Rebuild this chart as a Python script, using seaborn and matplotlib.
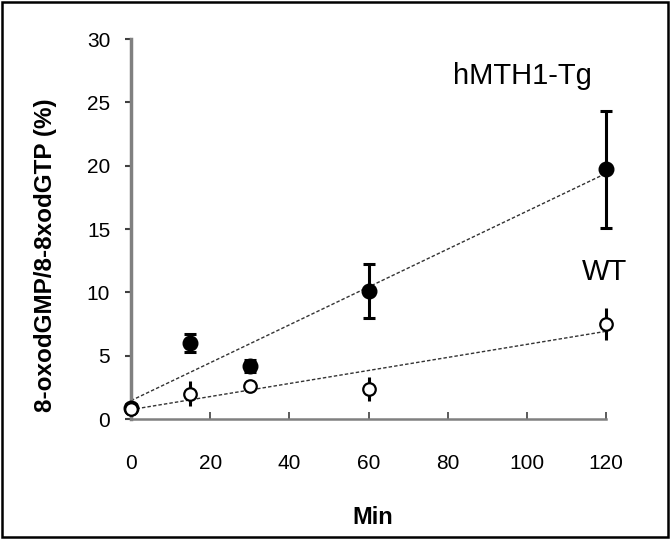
import matplotlib
matplotlib.use("Agg")
import matplotlib.pyplot as plt
import seaborn as sns
import numpy as np
import pandas as pd
from matplotlib.patches import Rectangle

# Data
minutes = [0, 15, 30, 60, 120]
tg_values = [0.9, 6.0, 4.2, 10.1, 19.7]
tg_errors = [0.3, 0.7, 0.45, 2.1, 4.6]
wt_values = [0.8, 2.0, 2.6, 2.4, 7.5]
wt_errors = [0.3, 1.0, 0.4, 0.95, 1.25]
x_ticks = [0, 20, 40, 60, 80, 100, 120]
y_ticks = [0, 5, 10, 15, 20, 25, 30]

df_tg = pd.DataFrame({"Min": minutes, "val": tg_values})
df_wt = pd.DataFrame({"Min": minutes, "val": wt_values})

sns.set_theme(style="white")
plt.rcParams['font.family'] = ['Liberation Sans', 'DejaVu Sans']
plt.rcParams['text.color'] = 'black'
plt.rcParams['axes.labelcolor'] = 'black'
plt.rcParams['xtick.color'] = 'black'
plt.rcParams['ytick.color'] = 'black'

fig = plt.figure(figsize=(6.70, 5.39), dpi=100)
ax = fig.add_axes([0.1955, 0.2226, 0.709, 0.705])

# trend lines (linear regression)
line_kws = dict(color="#333333", lw=1.0, ls=(0, (2.5, 1.5)))
sns.regplot(data=df_tg, x="Min", y="val", scatter=False, ci=None, ax=ax,
            line_kws=line_kws, truncate=True)
sns.regplot(data=df_wt, x="Min", y="val", scatter=False, ci=None, ax=ax,
            line_kws=line_kws, truncate=True)

# error bars + markers
ax.errorbar(minutes, tg_values, yerr=tg_errors, fmt='o', color='black',
            ms=10.5, mfc='black', mec='black', elinewidth=2.2, capsize=4,
            capthick=2.2, clip_on=False, zorder=5)
ax.errorbar(minutes, wt_values, yerr=wt_errors, fmt='o', color='black',
            ms=9, mfc='white', mec='black', mew=1.6, elinewidth=2.2,
            capsize=0, clip_on=False, zorder=6)

ax.set_xlim(0, 120)
ax.set_ylim(0, 30)
ax.set_xticks(x_ticks)
ax.set_yticks(y_ticks)

for s in ['top', 'right']:
    ax.spines[s].set_visible(False)
ax.spines['left'].set_color('#808080')
ax.spines['left'].set_linewidth(2.5)
ax.spines['bottom'].set_color('#808080')
ax.spines['bottom'].set_linewidth(1.8)

ax.tick_params(axis='y', direction='out', length=4, width=1.5, color='#404040',
               labelcolor='black', labelsize=15, pad=11, left=True)
ax.tick_params(axis='x', direction='in', length=5, width=1.2, color='#404040',
               labelcolor='black', labelsize=15, pad=25, bottom=True)

ax.set_ylabel("8-oxodGMP/8-8xodGTP (%)", fontsize=17.5, fontweight='bold',
              va='center', color='black')
ax.yaxis.set_label_coords(-0.181, 0.43)
ax.set_xlabel("Min", fontsize=17, fontweight='bold', va='center', color='black')
ax.xaxis.set_label_coords(0.509, -0.258)

ax.text(81.3, 27.1, "hMTH1-Tg", fontsize=21, ha='left', va='center', color='black')
ax.text(113.9, 11.6, "WT", fontsize=21, ha='left', va='center', color='black')

fig.patches.append(Rectangle((0.003, 0.003), 0.994, 0.994, transform=fig.transFigure,
                             fill=False, edgecolor='black', linewidth=1.8))

fig.savefig("out.png", dpi=100)
